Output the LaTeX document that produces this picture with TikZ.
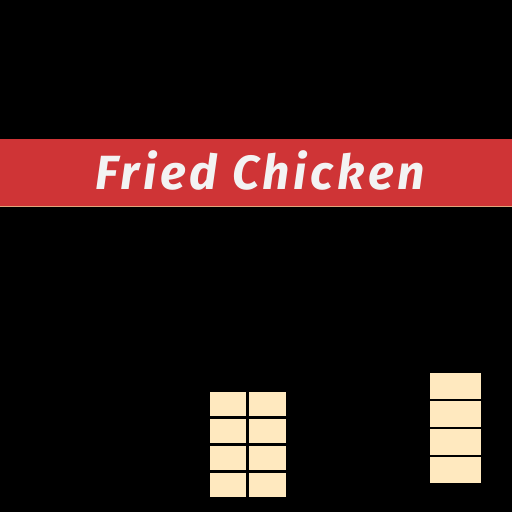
\documentclass[tikz,border=0pt]{standalone}
\usepackage{fontspec}
\usepackage{tikz}
\setsansfont{Fira Sans}
\newfontfamily\titlefont[LetterSpace=8]{Fira Sans}
\definecolor{banner}{HTML}{CF3436}
\definecolor{cream}{HTML}{FFE9BF}
\definecolor{rim}{HTML}{E2A57C}
\definecolor{snow}{HTML}{F3F3F3}

\begin{document}
\begin{tikzpicture}[x=1pt,y=-1pt,
    cell/.style={fill=cream,inner sep=0pt,minimum width=36pt,minimum height=24.5pt},
    tallcell/.style={fill=cream,inner sep=0pt,minimum width=51pt,minimum height=26pt}]
    \fill [black] (0,0) rectangle (512,512);
    \useasboundingbox (0,0) rectangle (512,512);
    \fill [banner] (0,139) rectangle (512,206);
    \draw [rim,line width=0.8pt] (0,206) -- (512,206);
    \node [anchor=base,text=snow,inner sep=0pt,font=\titlefont\bfseries\itshape\fontsize{48}{50}\selectfont] (title) at (260,189) {Fried Chicken};
    \foreach \r in {0,...,3}{
        \node [cell] (left-\r) at (228,{404+27*\r}) {};
        \node [cell,minimum width=37pt] (mid-\r) at (267.5,{404+27*\r}) {};
        \node [tallcell] (right-\r) at (455.5,{386+28*\r}) {};
    }
    \end{tikzpicture}
\end{document}
